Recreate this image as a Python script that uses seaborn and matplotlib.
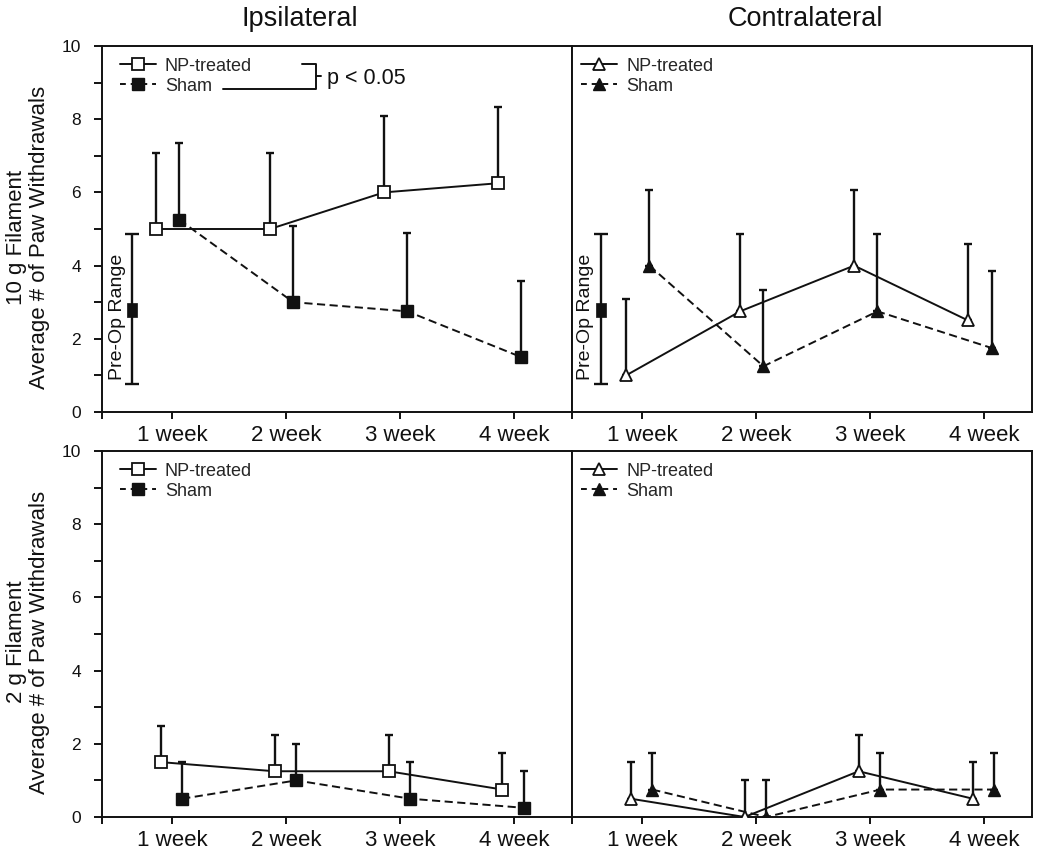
import numpy as np
import matplotlib
matplotlib.use("Agg")
import matplotlib.pyplot as plt
import seaborn as sns
from matplotlib.lines import Line2D
from matplotlib.ticker import MultipleLocator, FixedLocator

# ---------------- data ----------------
weeks = [1, 2, 3, 4]
week_labels = ["1 week", "2 week", "3 week", "4 week"]
group_names = ["NP-treated", "Sham"]
side_titles = ["Ipsilateral", "Contralateral"]
row_labels = ["10 g Filament\nAverage # of Paw Withdrawals",
              "2 g Filament\nAverage # of Paw Withdrawals"]

# 10 g filament, ipsilateral
np10_ipsi = [5.0, 5.0, 6.0, 6.25]
np10_ipsi_err = [2.07, 2.07, 2.09, 2.09]
sham10_ipsi = [5.25, 3.0, 2.75, 1.5]
sham10_ipsi_err = [2.09, 2.09, 2.14, 2.08]
# 10 g filament, contralateral
np10_contra = [1.0, 2.75, 4.0, 2.5]
np10_contra_err = [2.1, 2.1, 2.07, 2.1]
sham10_contra = [4.0, 1.25, 2.75, 1.75]
sham10_contra_err = [2.07, 2.07, 2.12, 2.11]
# 2 g filament, ipsilateral
np2_ipsi = [1.5, 1.25, 1.25, 0.75]
np2_ipsi_err = [1.0, 1.0, 1.0, 1.0]
sham2_ipsi = [0.5, 1.0, 0.5, 0.25]
sham2_ipsi_err = [1.0, 1.0, 1.0, 1.0]
# 2 g filament, contralateral
np2_contra = [0.5, 0.0, 1.25, 0.5]
np2_contra_err = [1.0, 1.0, 1.0, 1.0]
sham2_contra = [0.75, 0.0, 0.75, 0.75]
sham2_contra_err = [1.0, 1.0, 1.0, 1.0]

# pre-operative range (10 g filament)
preop_mean = 2.8
preop_low = 0.77
preop_high = 4.86

# ---------------- style ----------------
sns.set_theme(style="ticks")
plt.rcParams["font.family"] = ["Liberation Sans", "DejaVu Sans"]
plt.rcParams["axes.linewidth"] = 1.4

W, H = 1050, 855
fig = plt.figure(figsize=(W / 100, H / 100), dpi=100)

def fig_rect(left, right, top, bottom):
    return [left / W, 1 - bottom / H, (right - left) / W, (bottom - top) / H]

axes = {
    (0, 0): fig.add_axes(fig_rect(102, 572, 46, 412)),
    (0, 1): fig.add_axes(fig_rect(572, 1032, 46, 412)),
    (1, 0): fig.add_axes(fig_rect(102, 572, 451, 817)),
    (1, 1): fig.add_axes(fig_rect(572, 1032, 451, 817)),
}

panels = {
    (0, 0): (np10_ipsi, np10_ipsi_err, sham10_ipsi, sham10_ipsi_err),
    (0, 1): (np10_contra, np10_contra_err, sham10_contra, sham10_contra_err),
    (1, 0): (np2_ipsi, np2_ipsi_err, sham2_ipsi, sham2_ipsi_err),
    (1, 1): (np2_contra, np2_contra_err, sham2_contra, sham2_contra_err),
}

offsets = {0: (-0.14, 0.065), 1: (-0.10, 0.09)}
xlims = {0: (0.386, 4.51), 1: (0.386, 4.42)}

LW = 1.4
DASH = (0, (4.2, 2.3))
BLACK = "#111111"

for (r, c), ax in axes.items():
    npv, npe, shv, she = panels[(r, c)]
    mk = "s" if c == 0 else "^"
    ms_open = 8 if c == 0 else 9
    ms_fill = 8.5 if c == 0 else 9
    off_np, off_sh = offsets[r]
    x_np = np.array(weeks, dtype=float) + off_np
    x_sh = np.array(weeks, dtype=float) + off_sh

    # error bars (upper only)
    ax.errorbar(x_np, npv, yerr=[np.zeros(len(npv)), npe], fmt="none",
                ecolor=BLACK, elinewidth=1.7, capsize=3, capthick=1.7, zorder=2)
    ax.errorbar(x_sh, shv, yerr=[np.zeros(len(shv)), she], fmt="none",
                ecolor=BLACK, elinewidth=1.7, capsize=3, capthick=1.7, zorder=2)

    sns.lineplot(x=x_sh, y=shv, ax=ax, color=BLACK, linewidth=LW, linestyle=DASH,
                 marker=mk, markersize=ms_fill, markerfacecolor=BLACK,
                 markeredgecolor=BLACK, markeredgewidth=1.0, errorbar=None,
                 sort=False, legend=False, zorder=3)
    sns.lineplot(x=x_np, y=npv, ax=ax, color=BLACK, linewidth=LW, linestyle="-",
                 marker=mk, markersize=ms_open, markerfacecolor="white",
                 markeredgecolor=BLACK, markeredgewidth=1.3, errorbar=None,
                 sort=False, legend=False, zorder=4)

    ax.set_xlim(*xlims[c])
    ax.set_ylim(0, 10)
    ax.set_xlabel("")
    ax.set_ylabel("")
    ax.xaxis.set_major_locator(FixedLocator(weeks))
    ax.set_xticklabels(week_labels, fontsize=16)
    ax.xaxis.set_minor_locator(FixedLocator([xlims[c][0]]))
    ax.tick_params(axis="x", which="both", direction="out", length=5,
                   width=1.4, pad=4, colors=BLACK)
    if c == 0:
        ax.yaxis.set_major_locator(MultipleLocator(2))
        ax.yaxis.set_minor_locator(MultipleLocator(1))
        ax.tick_params(axis="y", which="both", direction="out", length=6,
                       width=1.4, pad=9, labelsize=12.5, colors=BLACK)
    else:
        ax.tick_params(axis="y", which="both", left=False, labelleft=False)
    for sp in ax.spines.values():
        sp.set_visible(True)
        sp.set_color(BLACK)

    # legend
    handles = [
        Line2D([], [], color=BLACK, lw=LW, linestyle="-", marker=mk,
               markersize=ms_open, markerfacecolor="white",
               markeredgecolor=BLACK, markeredgewidth=1.3),
        Line2D([], [], color=BLACK, lw=LW, linestyle=(0, (3.0, 2.5)), marker=mk,
               markersize=ms_fill, markerfacecolor=BLACK, markeredgecolor=BLACK),
    ]
    lx = 0.038 if c == 0 else 0.02
    ax.legend(handles, group_names, loc="upper left", bbox_to_anchor=(lx, 0.968),
              frameon=False, fontsize=13, handlelength=2.0, handletextpad=0.5,
              borderpad=0.0, borderaxespad=0.0, labelspacing=0.17)

# pre-op range in top row
for c, (px, tx) in enumerate([(0.65, 0.52), (0.643, 0.506)]):
    ax = axes[(0, c)]
    ax.errorbar([px], [preop_mean],
                yerr=[[preop_mean - preop_low], [preop_high - preop_mean]],
                fmt="none", ecolor=BLACK, elinewidth=1.7, capsize=5,
                capthick=1.7, zorder=2)
    rect = [(-0.35, -0.5), (0.35, -0.5), (0.35, 0.5), (-0.35, 0.5), (-0.35, -0.5)]
    sns.scatterplot(x=[px], y=[preop_mean], ax=ax, marker=rect, s=110,
                    color=BLACK, edgecolor=BLACK, linewidth=0.5, zorder=3,
                    legend=False)
    ax.text(tx, 0.87, "Pre-Op Range", rotation=90, ha="center", va="bottom",
            fontsize=14, color=BLACK)
    ax.set_xlabel("")
    ax.set_ylabel("")

# significance bracket (ipsilateral, 10 g)
ax = axes[(0, 0)]
bx = dict(transform=ax.transAxes, color=BLACK, lw=1.4, clip_on=False)
ax.plot([0.425, 0.4545, 0.4545, 0.257], [0.951, 0.951, 0.8825, 0.8825], **bx)
ax.plot([0.4545, 0.466], [0.9167, 0.9167], **bx)
ax.text(0.479, 0.912, "p < 0.05", transform=ax.transAxes, ha="left",
        va="center", fontsize=15.5, color=BLACK)

# column titles
fig.text(300 / W, 1 - 26 / H, side_titles[0], ha="center", va="baseline",
         fontsize=19.5, color=BLACK)
fig.text(805 / W, 1 - 26 / H, side_titles[1], ha="center", va="baseline",
         fontsize=19.5, color=BLACK)

# row labels
for r, (top, bot) in enumerate([(46, 412), (451, 817)]):
    yc = 1 - ((top + bot) / 2 + 8) / H
    fig.text(28 / W, yc, row_labels[r], rotation=90, ha="center", va="center",
             fontsize=16, color=BLACK, linespacing=1.12, multialignment="center")

fig.savefig("out.png", dpi=100)
